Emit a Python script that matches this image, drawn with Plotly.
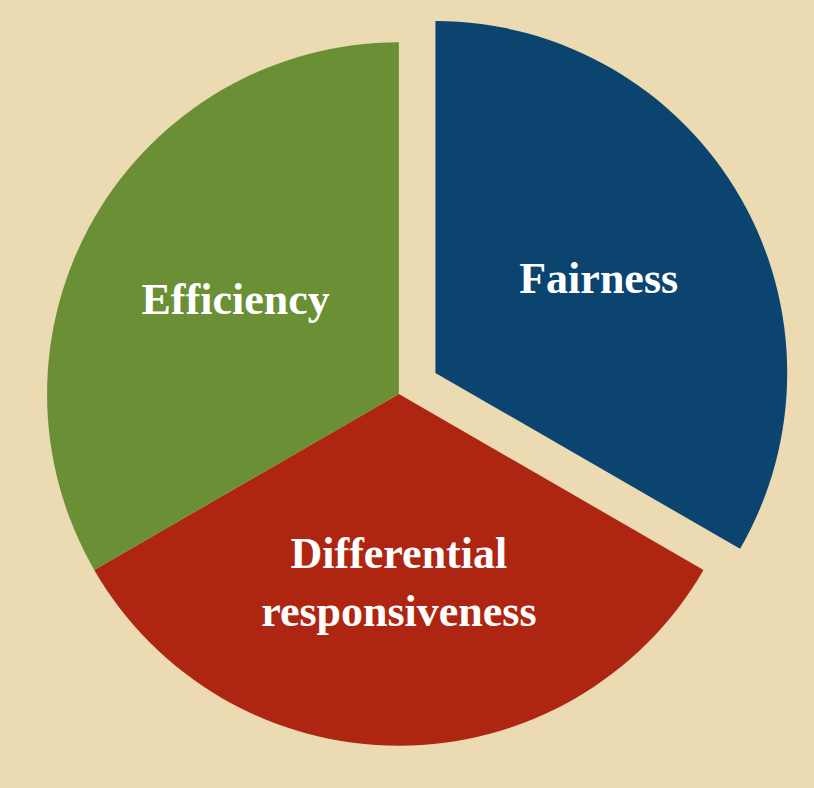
import plotly.graph_objects as go

labels = ["Fairness", "Differential<br>responsiveness", "Efficiency"]
values = [1, 1, 1]
colors = ["#0C4470", "#AE2612", "#6A8F35"]
pulls = [0.12, 0, 0]

fig = go.Figure(go.Pie(
    labels=labels,
    values=values,
    sort=False,
    direction="clockwise",
    rotation=0,
    pull=pulls,
    marker=dict(colors=colors, line=dict(width=0)),
    textinfo="label",
    textposition="inside",
    insidetextorientation="horizontal",
    textfont=dict(family="Liberation Serif", size=44, color="white", weight="bold"),
    showlegend=False,
    domain=dict(x=[0, 0.98], y=[0, 1]),
))

fig.update_layout(
    width=814, height=788,
    margin=dict(l=0, r=0, t=0, b=0),
    paper_bgcolor="#EBDAB2",
    plot_bgcolor="#EBDAB2",
    uniformtext=dict(minsize=44, mode="show"),
)

fig.write_html(
    "out.html",
    config={"displayModeBar": False},
    post_script="document.body.style.margin='0';document.body.style.overflow='hidden';document.body.style.background='#EBDAB2';",
)
